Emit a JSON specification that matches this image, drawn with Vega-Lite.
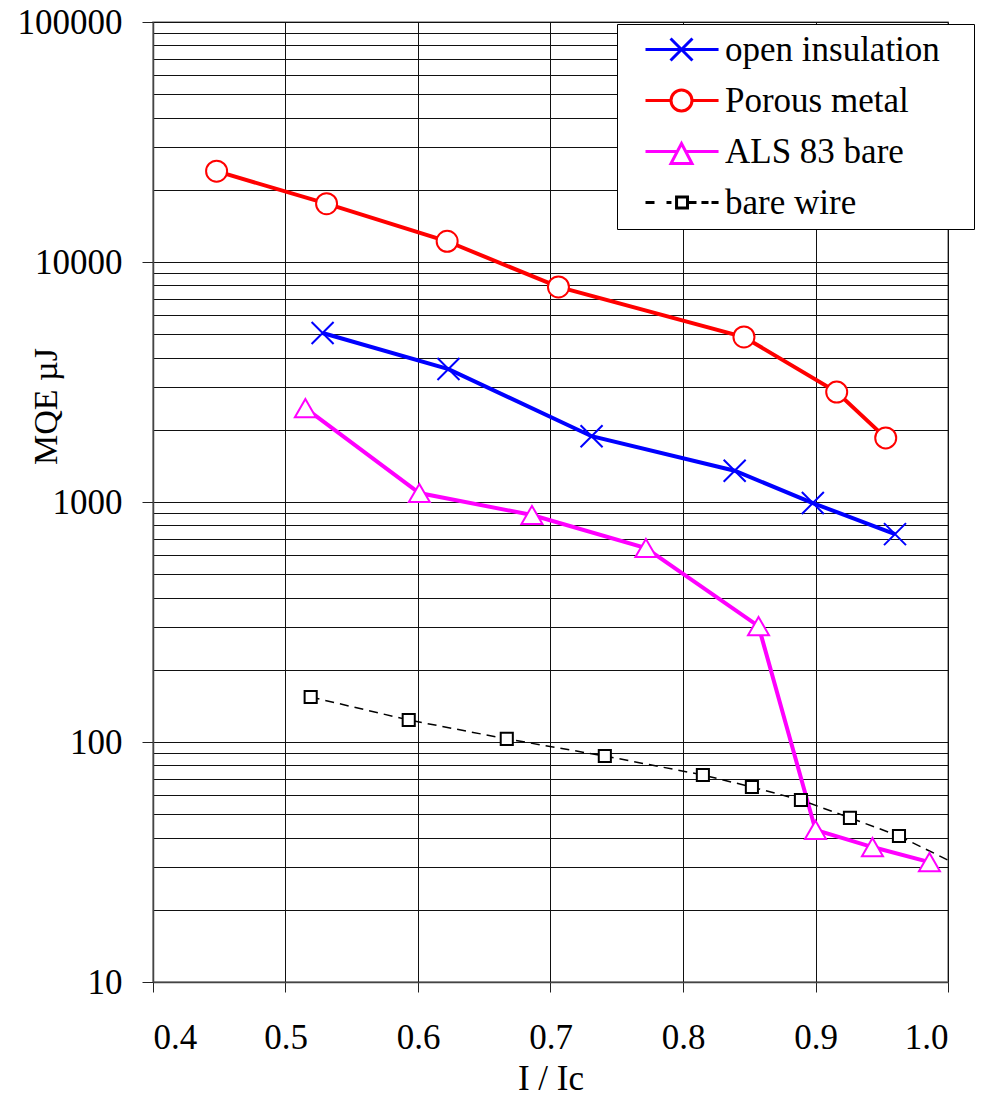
{
  "$schema": "https://vega.github.io/schema/vega-lite/v6.json",
  "width": 795,
  "height": 960,
  "autosize": {"type": "none"},
  "padding": {"left": 153, "top": 22, "right": 37, "bottom": 114},
  "background": "white",
  "config": {
    "font": "Liberation Serif, Times New Roman, DejaVu Serif, serif",
    "view": {"stroke": "#888", "strokeWidth": 1.5},
    "axis": {
      "labelFont": "Liberation Serif, Times New Roman, DejaVu Serif, serif",
      "titleFont": "Liberation Serif, Times New Roman, DejaVu Serif, serif",
      "labelColor": "#000",
      "titleColor": "#000",
      "titleFontWeight": "normal",
      "labelFontSize": 35,
      "titleFontSize": 34,
      "gridColor": "#111",
      "gridWidth": 1,
      "gridOpacity": 1,
      "domainColor": "#444",
      "domainWidth": 1.5,
      "tickColor": "#222",
      "tickWidth": 1
    },
    "legend": {
      "labelFont": "Liberation Serif, Times New Roman, DejaVu Serif, serif",
      "labelFontSize": 35,
      "labelColor": "#000",
      "labelLimit": 500
    }
  },
  "datasets": {
    "mqe": [
      {"series": "open insulation", "ratio": 0.528, "mqe": 5060},
      {"series": "open insulation", "ratio": 0.623, "mqe": 3580},
      {"series": "open insulation", "ratio": 0.731, "mqe": 1880},
      {"series": "open insulation", "ratio": 0.839, "mqe": 1350},
      {"series": "open insulation", "ratio": 0.898, "mqe": 990},
      {"series": "open insulation", "ratio": 0.960, "mqe": 735},
      {"series": "Porous metal", "ratio": 0.448, "mqe": 23900},
      {"series": "Porous metal", "ratio": 0.531, "mqe": 17500},
      {"series": "Porous metal", "ratio": 0.622, "mqe": 12200},
      {"series": "Porous metal", "ratio": 0.706, "mqe": 7870},
      {"series": "Porous metal", "ratio": 0.846, "mqe": 4870},
      {"series": "Porous metal", "ratio": 0.916, "mqe": 2870},
      {"series": "Porous metal", "ratio": 0.953, "mqe": 1850},
      {"series": "ALS 83 bare", "ratio": 0.515, "mqe": 2460},
      {"series": "ALS 83 bare", "ratio": 0.601, "mqe": 1090},
      {"series": "ALS 83 bare", "ratio": 0.686, "mqe": 883},
      {"series": "ALS 83 bare", "ratio": 0.772, "mqe": 643},
      {"series": "ALS 83 bare", "ratio": 0.857, "mqe": 304},
      {"series": "ALS 83 bare", "ratio": 0.900, "mqe": 43},
      {"series": "ALS 83 bare", "ratio": 0.943, "mqe": 36.5},
      {"series": "ALS 83 bare", "ratio": 0.986, "mqe": 31.6},
      {"series": "bare wire", "ratio": 0.519, "mqe": 154},
      {"series": "bare wire", "ratio": 0.593, "mqe": 123.5},
      {"series": "bare wire", "ratio": 0.667, "mqe": 103},
      {"series": "bare wire", "ratio": 0.741, "mqe": 87.4},
      {"series": "bare wire", "ratio": 0.815, "mqe": 72.9},
      {"series": "bare wire", "ratio": 0.852, "mqe": 64.9},
      {"series": "bare wire", "ratio": 0.889, "mqe": 57.3},
      {"series": "bare wire", "ratio": 0.926, "mqe": 48.3},
      {"series": "bare wire", "ratio": 0.963, "mqe": 40.6}
    ],
    "tail": [
      {"series": "bare wire", "ratio": 0.963, "mqe": 40.6},
      {"series": "bare wire", "ratio": 1.0, "mqe": 32.2}
    ]
  },
  "encoding": {
    "x": {
      "field": "ratio",
      "type": "quantitative",
      "scale": {"domain": [0.4, 1.0], "nice": false, "zero": false},
      "axis": {
        "title": "I / Ic",
        "values": [0.4, 0.5, 0.6, 0.7, 0.8, 0.9, 1.0],
        "format": ".1f",
        "tickSize": 10,
        "labelPadding": 28,
        "titlePadding": 6,
        "labelFontSize": 35,
        "titleFontSize": 35,
        "labelOverlap": false
      }
    },
    "y": {
      "field": "mqe",
      "type": "quantitative",
      "scale": {"type": "log", "domain": [10, 100000], "nice": false},
      "axis": {
        "title": "MQE µJ",
        "values": [10, 20, 30, 40, 50, 60, 70, 80, 90, 100, 200, 300, 400, 500, 600, 700, 800, 900, 1000, 2000, 3000, 4000, 5000, 6000, 7000, 8000, 9000, 10000, 20000, 30000, 40000, 50000, 60000, 70000, 80000, 90000, 100000],
        "labelExpr": "indexof([10, 100, 1000, 10000, 100000], datum.value) >= 0 ? format(datum.value, 'd') : ''",
        "tickOpacity": {"condition": {"test": "indexof([10, 100, 1000, 10000, 100000], datum.value) >= 0", "value": 1}, "value": 0},
        "tickSize": 11,
        "labelPadding": 20,
        "labelOverlap": false,
        "titleAngle": -90,
        "titleX": -97,
        "titleY": 384,
        "titleAlign": "center",
        "titleBaseline": "alphabetic"
      }
    },
    "stroke": {
      "field": "series",
      "type": "nominal",
      "scale": {
        "domain": ["open insulation", "Porous metal", "ALS 83 bare", "bare wire"],
        "range": ["#0000ff", "#ff0000", "#ff00ff", "#000000"]
      },
      "legend": {
        "title": null,
        "orient": "none",
        "legendX": 464,
        "legendY": 2,
        "padding": 8,
        "rowPadding": 15,
        "labelOffset": 65,
        "labelFontSize": 35,
        "labelLimit": 500,
        "labelExpr": "datum.label + '\u2800'",
        "symbolSize": 900,
        "symbolStrokeWidth": 3,
        "symbolFillColor": "white",
        "fillColor": "white",
        "strokeColor": "#000",
        "cornerRadius": 0,
        "encode": {
          "symbols": {
            "update": {
              "fill": {"value": "white"},
              "strokeWidth": {"value": 3},
              "opacity": {"value": 1},
              "shape": {"signal": "datum.value === 'open insulation' ? 'M0.2,0H5.07M1.87,-0.73L3.33,0.73M1.87,0.73L3.33,-0.73' : datum.value === 'Porous metal' ? 'M0.2,0H1.9M3.3,0H5.07M3.3,0A0.7,0.7,0,1,1,1.9,0A0.7,0.7,0,1,1,3.3,0Z' : datum.value === 'ALS 83 bare' ? 'M0.2,0H2.32M2.88,0H5.07M2.6,-0.53L3.3,0.8L1.9,0.8Z' : 'M0.2,0H0.8M1.6,0H1.93M3.0,0H3.6M3.93,0H4.4M4.6,0H5.07M2.27,-0.37H3.0V0.37H2.27Z'"}
            }
          }
        }
      }
    }
  },
  "layer": [
    {
      "data": {"name": "mqe"},
      "transform": [{"filter": "datum.series !== 'bare wire'"}],
      "mark": {"type": "line", "strokeWidth": 4}
    },
    {
      "data": {"name": "mqe"},
      "transform": [{"filter": "datum.series === 'bare wire'"}],
      "mark": {"type": "line", "strokeWidth": 1.5, "strokeDash": [9, 6]}
    },
    {
      "data": {"name": "tail"},
      "mark": {"type": "line", "strokeWidth": 1.5, "strokeDash": [9, 6]}
    },
    {
      "data": {"name": "mqe"},
      "transform": [{"filter": "datum.series === 'open insulation'"}],
      "mark": {"type": "point", "shape": "M-1,-1L1,1M-1,1L1,-1", "filled": false, "strokeWidth": 2, "size": 484, "opacity": 1}
    },
    {
      "data": {"name": "mqe"},
      "transform": [{"filter": "datum.series === 'Porous metal'"}],
      "mark": {"type": "point", "shape": "circle", "filled": true, "fill": "white", "strokeWidth": 2, "size": 441, "opacity": 1}
    },
    {
      "data": {"name": "mqe"},
      "transform": [{"filter": "datum.series === 'ALS 83 bare'"}],
      "mark": {"type": "point", "shape": "triangle-up", "filled": true, "fill": "white", "strokeWidth": 2, "size": 441, "opacity": 1}
    },
    {
      "data": {"name": "mqe"},
      "transform": [{"filter": "datum.series === 'bare wire'"}],
      "mark": {"type": "point", "shape": "M-0.55,-0.55H0.55V0.55H-0.55Z", "filled": true, "fill": "white", "strokeWidth": 2, "size": 484, "opacity": 1}
    }
  ]
}
